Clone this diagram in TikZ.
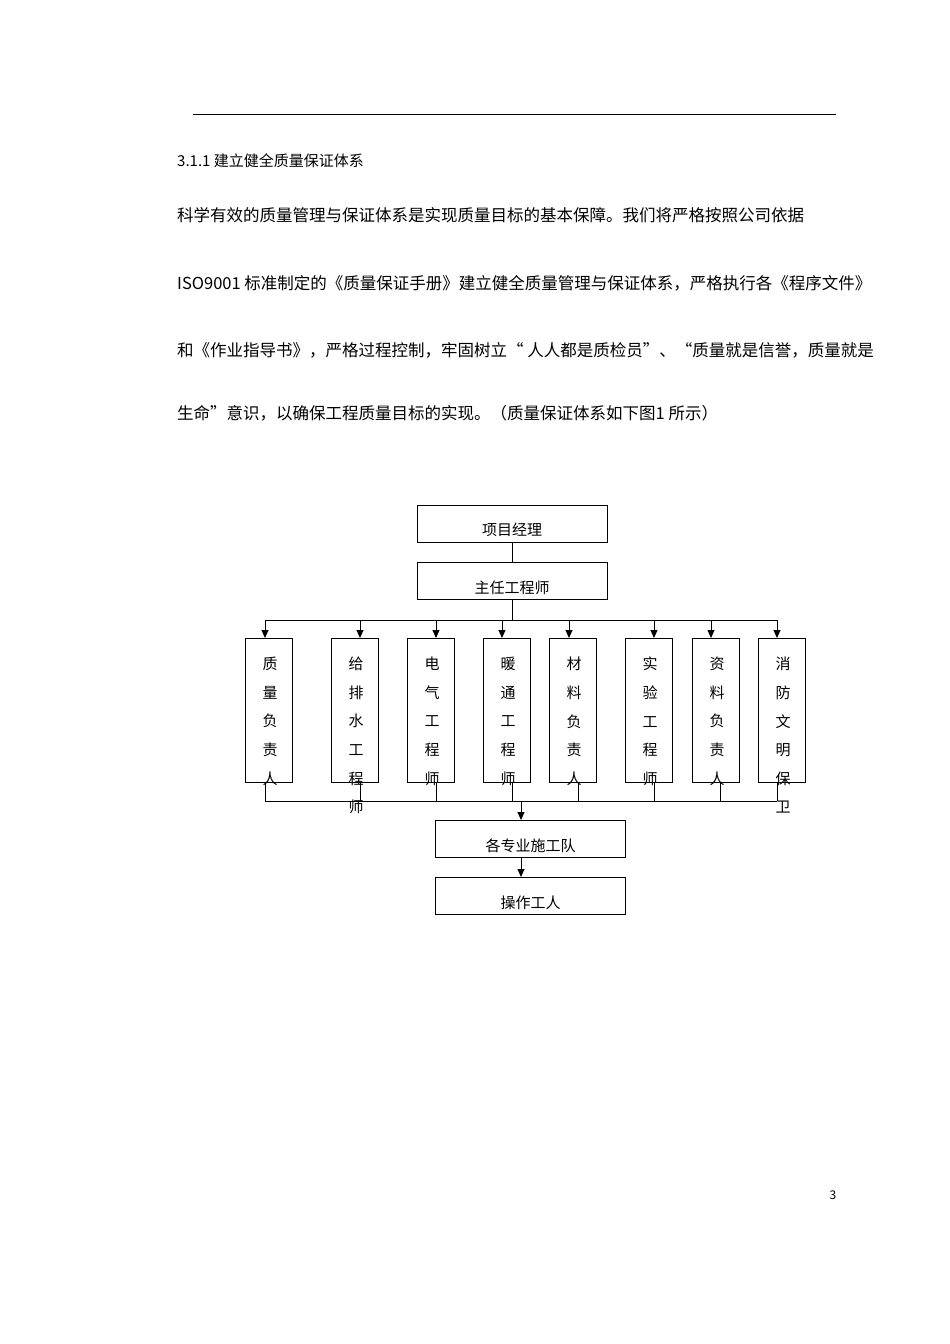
\documentclass[tikz,border=0pt]{standalone}
\usepackage{fontspec}
\setmainfont{Noto Sans CJK SC}
\usetikzlibrary{arrows.meta}
\tikzset{
  box/.style={draw,line width=0.9pt,minimum width=190pt,minimum height=37pt,inner sep=0pt},
  sub/.style={draw,line width=0.9pt,minimum width=47pt,minimum height=144pt,anchor=north,inner sep=0pt},
  para/.style={anchor=base west,inner sep=0pt,font=\fontsize{16.5}{16.5}\selectfont},
  col/.style={anchor=north,inner sep=0pt,align=center,font=\fontsize{15}{28.6}\selectfont},
  arr/.style={-{Triangle[length=8pt,width=7pt]},line width=0.9pt}
}
\begin{document}
\begin{tikzpicture}[x=1pt,y=-1pt]
   \useasboundingbox[fill=white] (0,0) rectangle (950,1344);
   \draw[line width=1pt] (193,114) -- (836,114);
   \node[para,font=\fontsize{15}{15}\selectfont] (h) at (177,166) {3.1.1 建立健全质量保证体系};
   \node[para] (l1) at (177,221) {科学有效的质量管理与保证体系是实现质量目标的基本保障。我们将严格按照公司依据};
   \node[para] (l2) at (177,289) {ISO9001 标准制定的《质量保证手册》建立健全质量管理与保证体系，严格执行各《程序文件》};
   \node[para] (l3) at (177,356) {和《作业指导书》，严格过程控制，牢固树立“ 人人都是质检员”、“质量就是信誉，质量就是};
   \node[para] (l4) at (177,419) {生命”意识，以确保工程质量目标的实现。（质量保证体系如下图1 所示）};

   % top of chart
   \node[box] (mgr) at (512,523.5) {};
   \node[font=\fontsize{15}{15}\selectfont] at (512,530) {项目经理};
   \node[box] (chief) at (512,580.5) {};
   \node[font=\fontsize{15}{15}\selectfont] at (512,588) {主任工程师};
   \draw[line width=0.9pt] (mgr.south) -- (chief.north);
   \coordinate (bl) at (265,620);
   \coordinate (br) at (777,620);
   \draw[line width=0.9pt] (chief.south) -- (512,620);
   \draw[line width=0.9pt] (bl) -- (br);

   % the eight posts
   \foreach \n/\x/\a/\t in {s1/269/265/质\\量\\负\\责\\人,
                            s2/355/360/给\\排\\水\\工\\程\\师,
                            s3/431/436/电\\气\\工\\程\\师,
                            s4/507/502/暖\\通\\工\\程\\师,
                            s5/573/569/材\\料\\负\\责\\人,
                            s6/649/654/实\\验\\工\\程\\师,
                            s7/716/711/资\\料\\负\\责\\人,
                            s8/782/777/消\\防\\文\\明\\保\\卫}{
     \node[sub] (\n) at (\x,638) {};
     \node[col] at (\x+1,657) {\t};
     \draw[arr] (\a,620) -- (\a,638);
   }
   \foreach \x in {265,360,436,512,578,654,720,777}
     \draw[line width=0.9pt] (\x,782) -- (\x,801);
   \draw[line width=0.9pt] (265,801) -- (777,801);

   % bottom of chart
   \node[box] (team) at (530.5,839) {};
   \node[font=\fontsize{15}{15}\selectfont] at (530.5,846) {各专业施工队};
   \node[box] (worker) at (530.5,896) {};
   \node[font=\fontsize{15}{15}\selectfont] at (530.5,903) {操作工人};
   \draw[arr] (521,801) -- (521,820);
   \draw[arr] (521,858) -- (521,877);

   \node[font=\fontsize{12}{12}\selectfont] (pg) at (833,1195) {3};
\end{tikzpicture}
\end{document}
